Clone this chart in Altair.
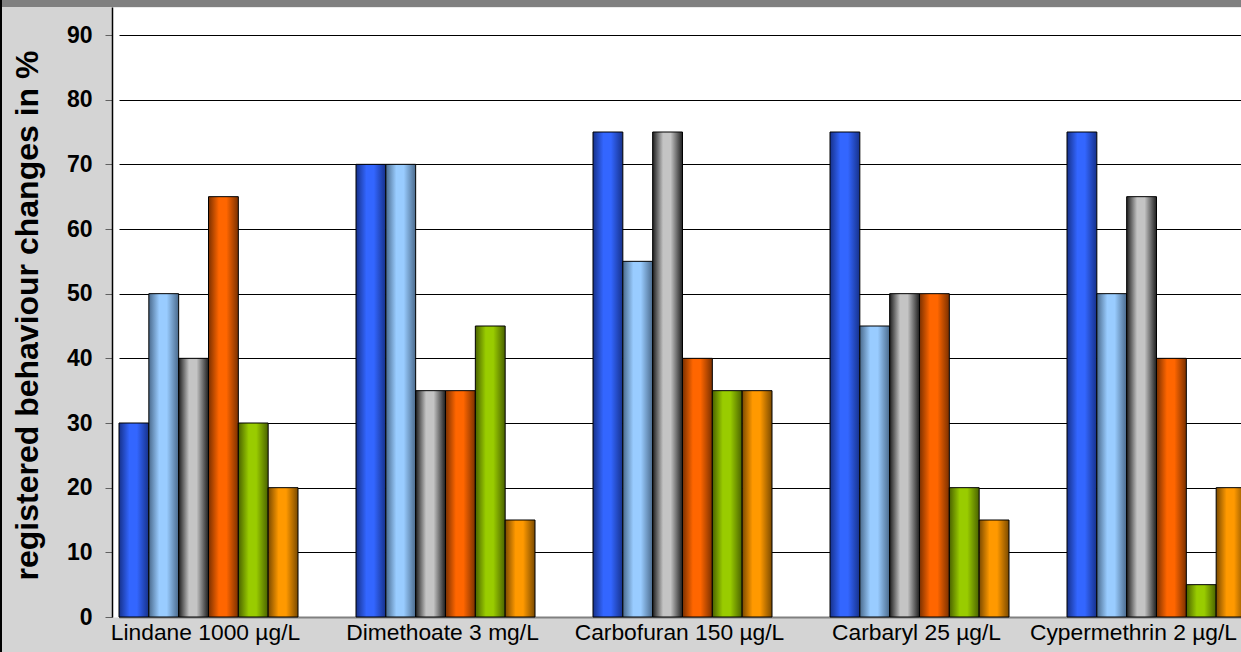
import altair as alt
import pandas as pd

groups = ["Lindane 1000 µg/L", "Dimethoate 3 mg/L", "Carbofuran 150 µg/L",
          "Carbaryl 25 µg/L", "Cypermethrin 2 µg/L"]
series = ["S1", "S2", "S3", "S4", "S5", "S6"]
values = {
    "S1": [30, 70, 75, 75, 75],
    "S2": [50, 70, 55, 45, 50],
    "S3": [40, 35, 75, 50, 65],
    "S4": [65, 35, 40, 50, 40],
    "S5": [30, 45, 35, 20, 5],
    "S6": [20, 15, 35, 15, 20],
}
bright = ["#3366ff", "#99ccff", "#c4c4c4", "#ff6600", "#99cc00", "#ff9900"]
dark = ["#16318a", "#4a6a8c", "#1e1e1e", "#7a3000", "#4a6200", "#7a4a00"]

rows = []
for s in series:
    for g, v in zip(groups, values[s]):
        rows.append({"group": g, "series": s, "value": v})
df = pd.DataFrame(rows)

W, H = 1129, 610
FONT = "Liberation Sans"

x_enc = alt.X("group:N", sort=groups,
              scale=alt.Scale(range=[7, 1134], paddingInner=58 / 237, paddingOuter=0),
              axis=alt.Axis(title=None, labelAngle=0, labelFontSize=22.8, labelFont=FONT,
                            labelColor="black", labelPadding=4, labelLimit=400, ticks=False,
                            labelOffset={"condition": {"test": "datum.label == '" + groups[-1] + "'",
                                                       "value": -23}, "value": -3},
                            domainColor="#808080", domainWidth=2, grid=False))
xo_enc = alt.XOffset("series:N", sort=series,
                     scale=alt.Scale(domain=series, paddingInner=0, paddingOuter=0))
y_enc = alt.Y("value:Q",
              scale=alt.Scale(domain=[0, 94.33], nice=False, zero=True),
              axis=alt.Axis(values=list(range(0, 100, 10)), title="registered behaviour changes in %",
                            titleFontSize=32, titleFont=FONT, titleFontWeight="bold",
                            titleColor="black", titleAngle=270, titleAlign="center",
                            titleBaseline="alphabetic", titleX=-75, titleY=308,
                            labelFontSize=23, labelFont=FONT, labelFontWeight="bold",
                            labelColor="black", labelPadding=13,
                            tickSize=7, tickColor="#606060", domainColor="black",
                            domainWidth=1.5, gridColor="black", gridWidth=1))

layers = []
for s, b, d in zip(series, bright, dark):
    grad = {"gradient": "linear", "x1": 0, "x2": 1, "y1": 0, "y2": 0,
            "stops": [{"offset": 0, "color": d}, {"offset": 0.35, "color": b},
                      {"offset": 0.6, "color": b}, {"offset": 1, "color": d}]}
    layers.append(
        alt.Chart(df).transform_filter(alt.datum.series == s)
        .mark_bar(color=grad, stroke="black", strokeWidth=1)
        .encode(x=x_enc, xOffset=xo_enc, y=y_enc)
    )

deco = pd.DataFrame({"k": [0]})
top_band = alt.Chart(deco).mark_rule(color="#808080", strokeWidth=7).encode(
    x=alt.value(-112), x2=alt.value(W + 10), y=alt.value(-3.5))
left_border = alt.Chart(deco).mark_rule(color="black", strokeWidth=2).encode(
    x=alt.value(-111), y=alt.value(-7), y2=alt.value(H + 35))

chart = alt.layer(*layers, top_band, left_border).properties(
    width=W, height=H,
    padding={"left": 112, "top": 7, "right": 0, "bottom": 35},
    autosize=alt.AutoSizeParams(type="none"),
    background="#d4d4d4",
).configure_view(fill="white", stroke="transparent")

chart.save("out.html", embed_options={"renderer": "svg", "actions": False})
